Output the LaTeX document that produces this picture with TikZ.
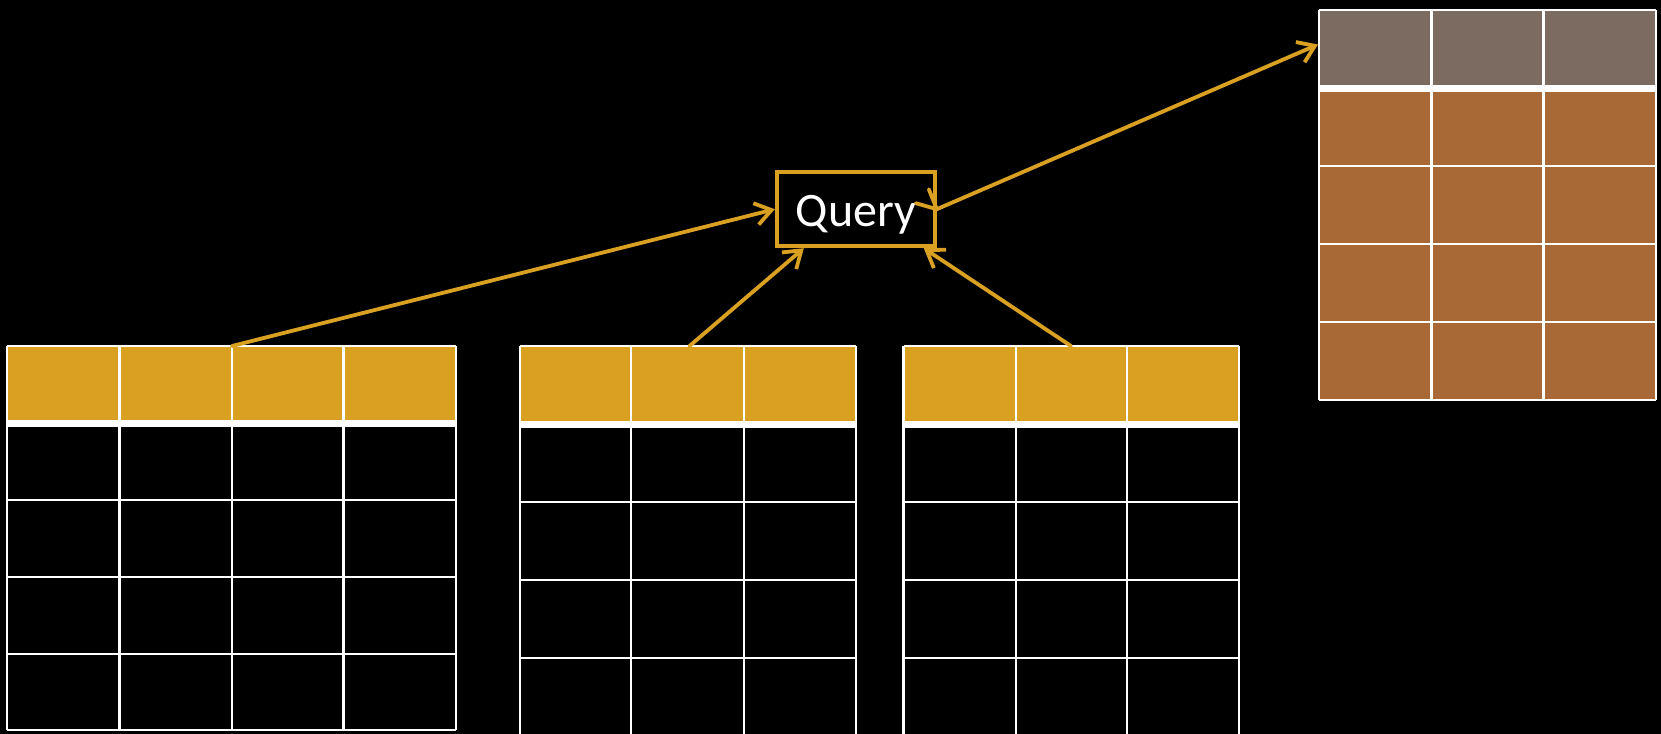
\documentclass[tikz,border=0pt]{standalone}
\usepackage{fontspec}
\setmainfont{Carlito}
\usetikzlibrary{arrows.meta,calc}
\definecolor{gold}{HTML}{DAA021}
\definecolor{resgray}{HTML}{7C6B60}
\definecolor{resbody}{HTML}{A96936}
\begin{document}
\begin{tikzpicture}[x=0.5pt,y=-0.5pt,
  gridline/.style={white, line width=1.2pt},
  conn/.style={gold, line width=1.9pt, line cap=round, line join=round,
    -{Straight Barb[length=8pt,width=11pt,line width=1.9pt]}},
  query/.style={draw=gold, line width=2pt, text=white, minimum width=79pt,
    minimum height=37pt, inner sep=0pt, text height=17pt, text depth=0pt,
    font=\fontsize{24}{29}\selectfont}]
\fill[black] (0,0) rectangle (1661,734);
\useasboundingbox (0,0) rectangle (1661,734);

% ---------- left table (4 columns) ----------
\fill[gold] (7,346) rectangle (456,421);
\fill[white] (7,420) rectangle (456,427);
\foreach \x in {7,119.5,232,343.5,456} \draw[gridline] (\x,346) -- (\x,730);
\foreach \y in {346,500,577,654,730} \draw[gridline] (7,\y) -- (456,\y);

% ---------- middle table (3 columns) ----------
\fill[gold] (520,346) rectangle (856,421);
\fill[white] (520,421) rectangle (856,428);
\foreach \x in {520,631,744,856} \draw[gridline] (\x,346) -- (\x,740);
\foreach \y in {346,502,580,658} \draw[gridline] (520,\y) -- (856,\y);

% ---------- right-middle table (3 columns) ----------
\fill[gold] (903.5,346) rectangle (1239,421);
\fill[white] (903.5,421) rectangle (1239,428);
\foreach \x in {903.5,1016,1127,1239} \draw[gridline] (\x,346) -- (\x,740);
\foreach \y in {346,502,580,658} \draw[gridline] (903.5,\y) -- (1239,\y);

% ---------- result table ----------
\fill[resgray] (1319,10) rectangle (1656,85);
\fill[resbody] (1319,92) rectangle (1656,400);
\fill[white] (1319,85) rectangle (1656,92);
\foreach \x in {1319,1431.5,1543.5,1656} \draw[gridline] (\x,10) -- (\x,400);
\foreach \y in {10,166,244,322,400} \draw[gridline] (1319,\y) -- (1656,\y);

% ---------- query node ----------
\node[query] (q) at (855.8,209.2) {Query};

% ---------- connector ends ----------
\coordinate (a1) at (232,346);
\coordinate (a2) at (689.5,346);
\coordinate (a3) at (1071,346);
\coordinate (r1) at (1318,44.5);

\draw[conn] (a1) -- (q.west);
\draw[conn] (a2) -- ($(q.south west)+(29,0)$);
\draw[conn] (a3) -- ($(q.south east)+(-13,0)$);
\draw[conn] (q.east) -- (r1);
\draw[gold, line width=1.9pt, line cap=round, line join=round]
  ($(q.east)+(-8,-20)$) -- (q.east) -- ($(q.east)+(-21,-6)$);
\end{tikzpicture}
\end{document}
